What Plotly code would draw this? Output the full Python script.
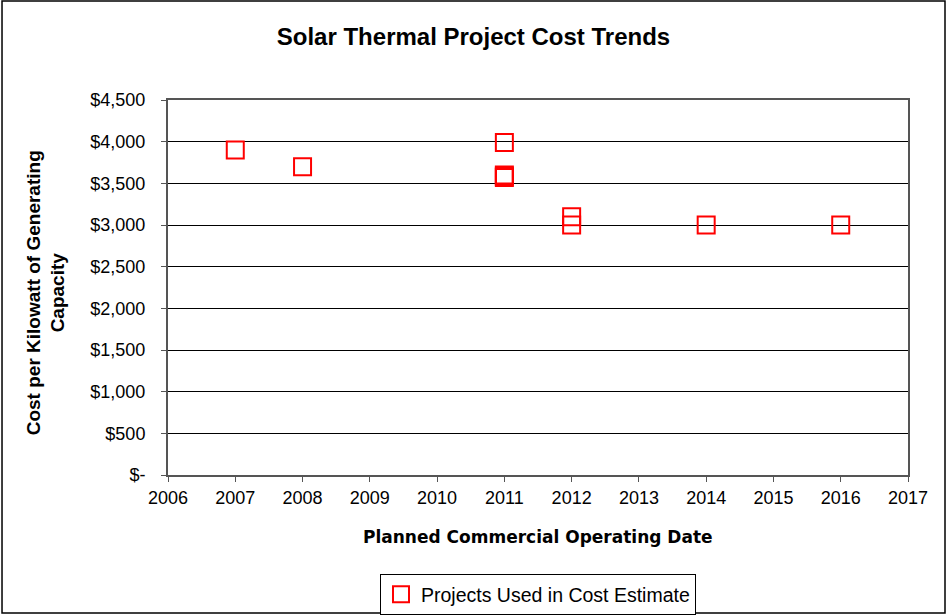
import plotly.graph_objects as go

# Projektdaten: geplantes Betriebsjahr und Kosten pro kW
jahre = [2007, 2008, 2011, 2011, 2011, 2011, 2012, 2012, 2014, 2016]
kosten = [3900, 3700, 3990, 3600, 3585, 3570, 3100, 3000, 3000, 3000]

y_ticks = [0, 500, 1000, 1500, 2000, 2500, 3000, 3500, 4000, 4500]
y_labels = ["$-", "$500", "$1,000", "$1,500", "$2,000", "$2,500",
            "$3,000", "$3,500", "$4,000", "$4,500"]
x_ticks = list(range(2006, 2018))

schrift = "Liberation Sans, Arial, sans-serif"

fig = go.Figure()
fig.add_trace(go.Scatter(
    x=jahre, y=kosten, mode="markers",
    name="Projects Used in Cost Estimate",
    marker=dict(symbol="square-open", size=17, color="#ff0000",
                line=dict(width=2, color="#ff0000")),
))

fig.update_layout(
    width=947, height=615,
    margin=dict(l=168, r=39, t=100, b=140, autoexpand=False),
    paper_bgcolor="white", plot_bgcolor="white",
    font=dict(family=schrift, color="black", size=16),
    title=dict(text="<b>Solar Thermal Project Cost Trends</b>",
               x=0.5, xanchor="center", y=1 - 37 / 615, yanchor="middle",
               font=dict(size=24)),
    showlegend=True,
    legend=dict(orientation="h", x=0.5, xanchor="center", y=-0.264, yanchor="top",
                bordercolor="black", borderwidth=1, font=dict(size=19.5),
                itemwidth=30),
)

fig.update_xaxes(
    range=[2006, 2017], tickvals=x_ticks, showgrid=False,
    showline=True, linecolor="#555", linewidth=2, mirror=True,
    ticks="outside", ticklen=5, tickcolor="#555", zeroline=False,
    tickfont=dict(size=18),
)
fig.update_yaxes(
    range=[0, 4500], tickvals=y_ticks, ticktext=y_labels,
    showgrid=True, gridcolor="black", gridwidth=1,
    showline=True, linecolor="#555", linewidth=2, mirror=True,
    ticks="outside", ticklen=5, tickcolor="#555", zeroline=False,
    tickfont=dict(size=18), ticklabelstandoff=12,
)

# Achsentitel als Annotationen
fig.add_annotation(text="<b>Planned Commercial Operating Date</b>",
                   xref="paper", yref="paper", x=0.5, y=-0.165,
                   xanchor="center", yanchor="middle", showarrow=False,
                   font=dict(size=17, family="DejaVu Sans"))
fig.add_annotation(text="<b>Cost per Kilowatt of Generating<br>Capacity</b>",
                   xref="paper", yref="paper", x=-0.165, y=0.487,
                   xanchor="center", yanchor="middle", showarrow=False,
                   textangle=-90, font=dict(size=19))

# Rahmen um das ganze Diagramm
fig.add_shape(type="rect", xref="paper", yref="paper",
              x0=-0.2243, x1=1.05, y0=-0.368, y1=1.264,
              line=dict(color="black", width=1.5))

# Standardrand des Browsers entfernen, damit die Abbildung bei 0,0 beginnt
fig.write_html("out.html", config={"displayModeBar": False},
               post_script="document.body.style.margin = '0';")
